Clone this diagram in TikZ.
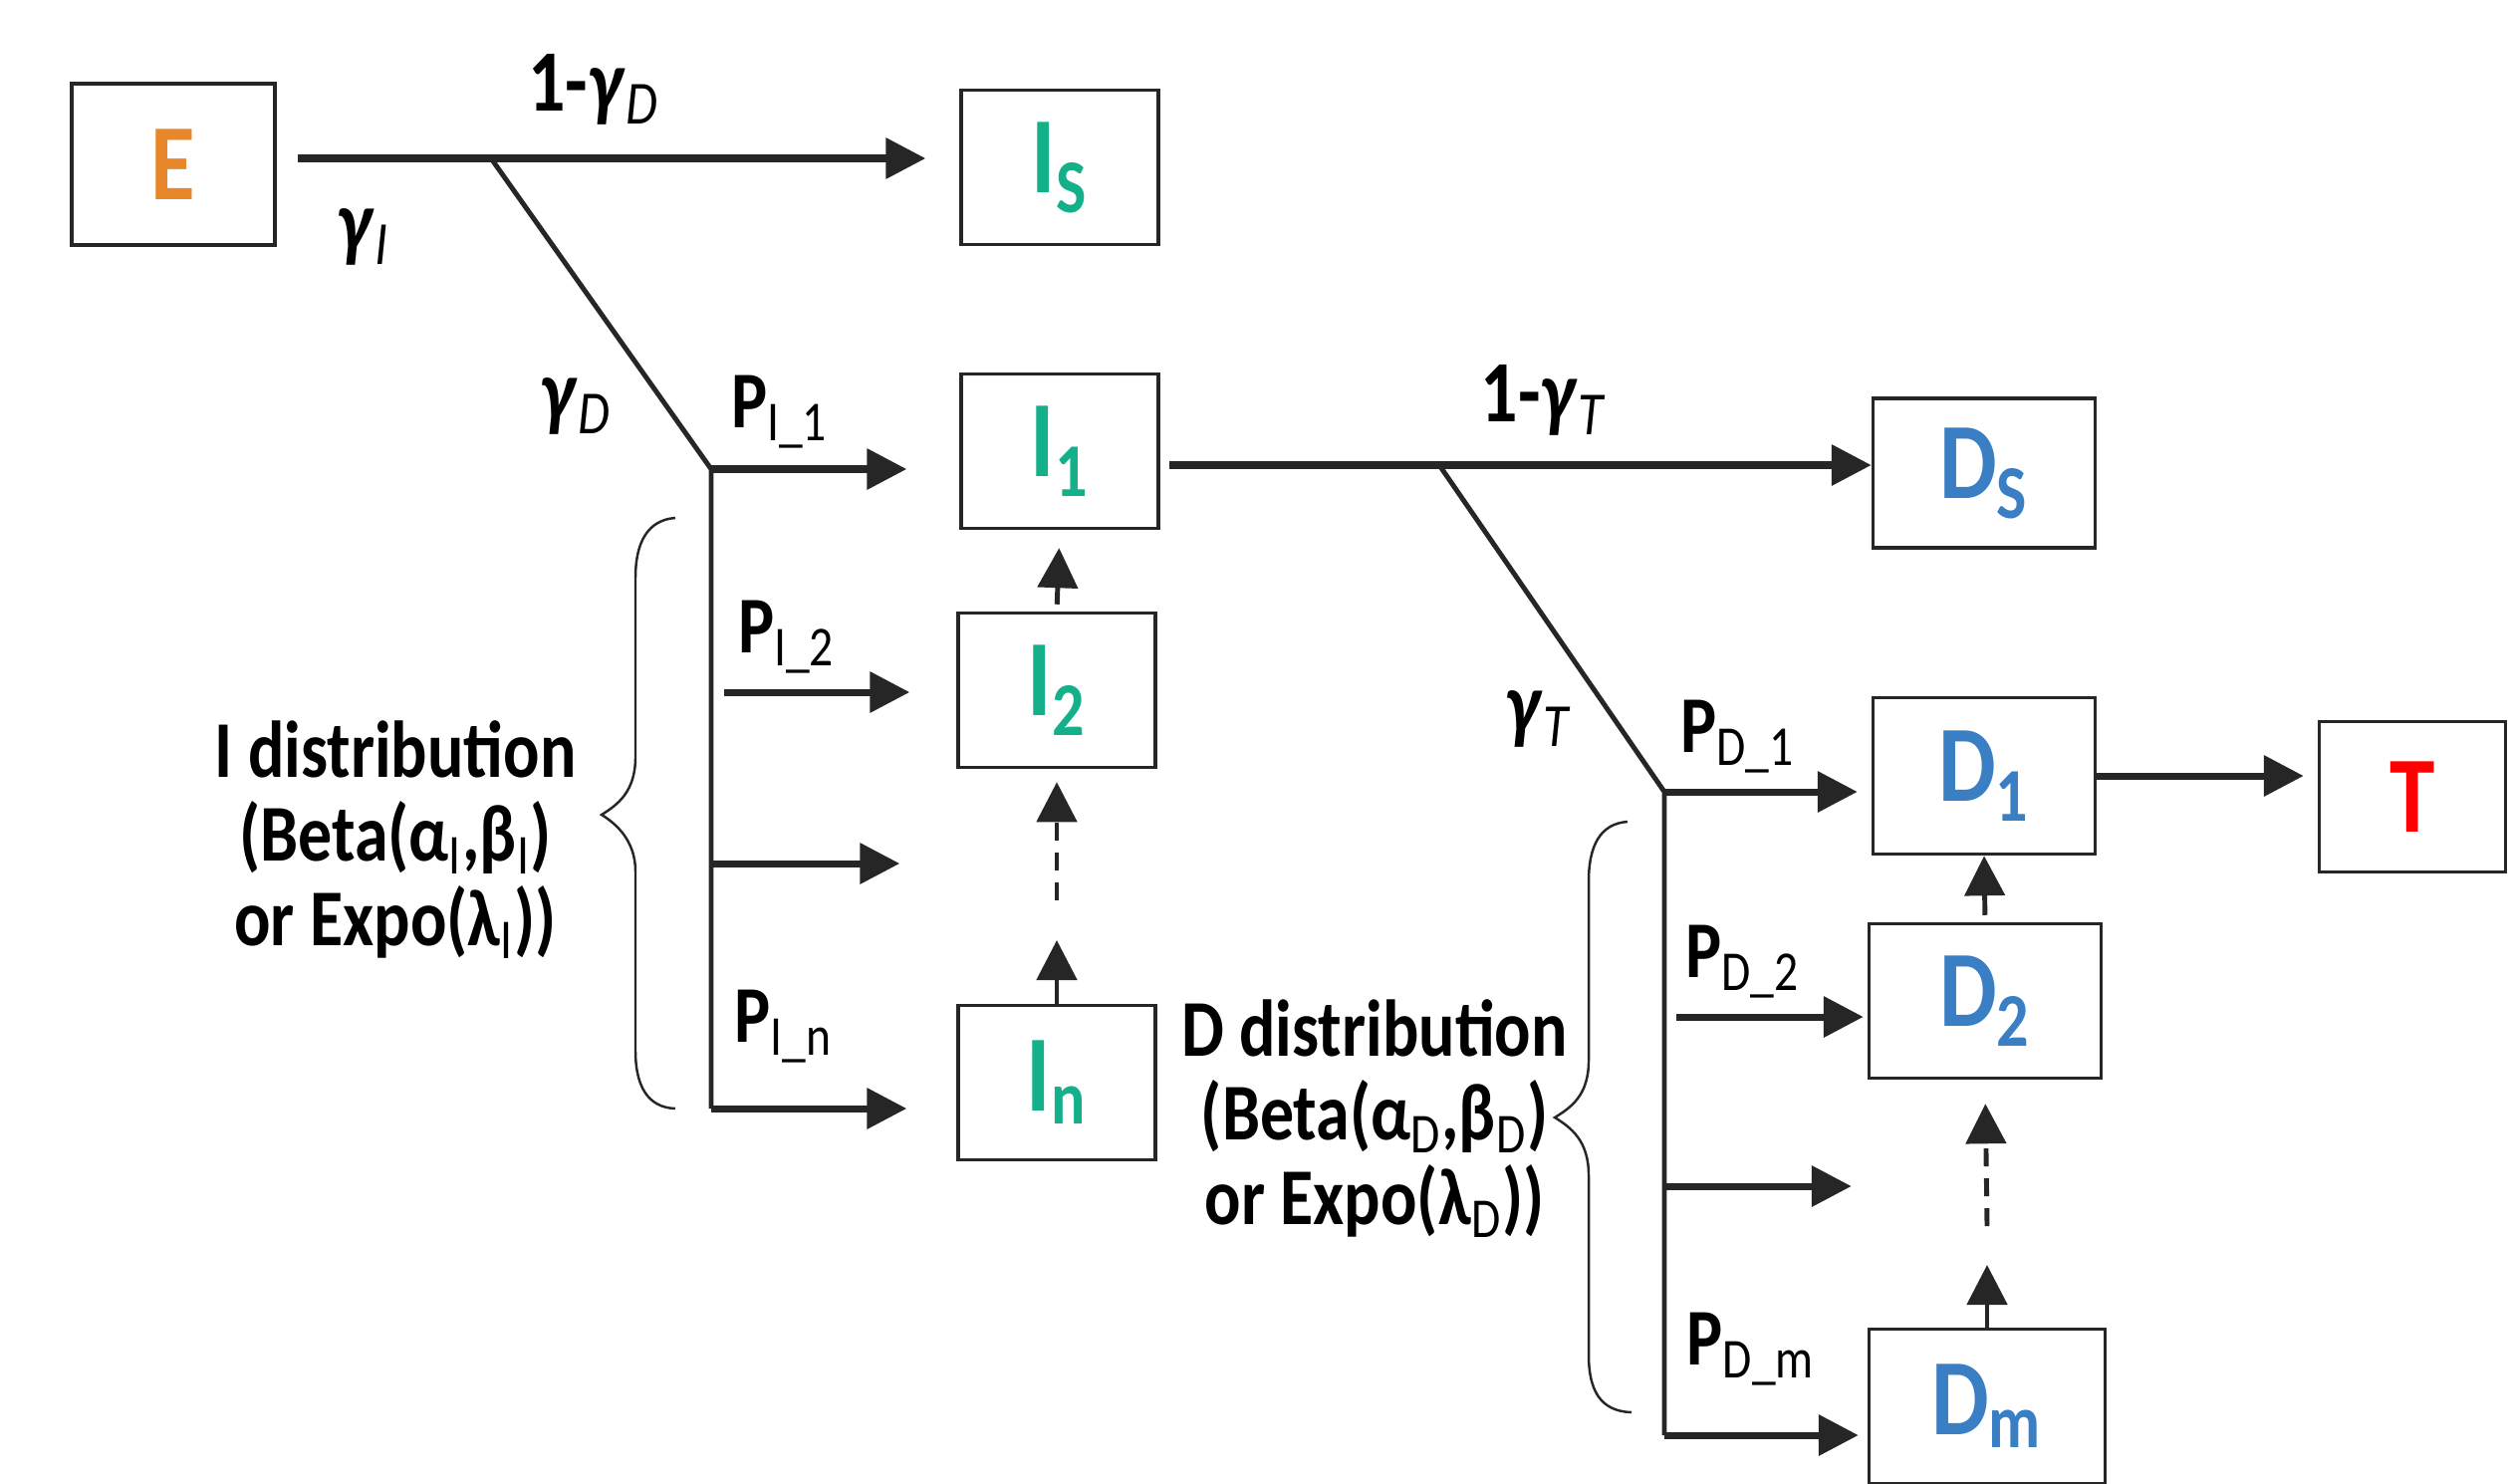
\documentclass[tikz,border=0pt]{standalone}
\usepackage{fontspec}
\setmainfont{Carlito}[FakeStretch=0.84]
\usetikzlibrary{arrows.meta}
\definecolor{linegray}{HTML}{262626}
\definecolor{eorange}{HTML}{E8872A}
\definecolor{igreen}{HTML}{14B08A}
\definecolor{dblue}{HTML}{3A7FC4}
\definecolor{tred}{HTML}{FF0000}
\tikzset{
	box/.style={draw=linegray,line width=1pt,inner sep=0pt,minimum height=1.55cm,font=\fontsize{31}{36}\selectfont\bfseries},
	arr/.style={draw=linegray,line width=2pt,-{Triangle[length=0.4cm,width=0.4cm]}},
	varr/.style={draw=linegray,line width=1.4pt,-{Triangle[length=0.4cm,width=0.4cm]}},
	link/.style={draw=linegray,line width=1.4pt},
	brace/.style={draw=linegray,line width=0.7pt},
	lbl/.style={font=\fontsize{23}{24}\selectfont\bfseries,inner sep=0pt},
	glbl/.style={font=\fontsize{25}{30}\selectfont\bfseries,inner sep=0pt},
	dashpat/.style={dash pattern=on 0.18cm off 0.12cm},
}
\newcommand{\gsub}[1]{\textit{γ}\textsubscript{\mdseries\itshape #1}}
\newcommand{\psub}[2]{P\textsubscript{\mdseries #1\_#2}}
\begin{document}
\begin{tikzpicture}
	\useasboundingbox (0,0) rectangle (25.18,-14.89);
	\node[box,minimum width=2.04cm,minimum height=1.62cm,text=eorange] (E) at (1.74,-1.65) {E};
	\node[box,minimum width=1.98cm,text=igreen] (Is) at (10.64,-1.68) {I\textsubscript{S}};
	\node[box,minimum width=1.98cm,text=igreen] (I1) at (10.64,-4.53) {I\textsubscript{1}};
	\node[box,minimum width=1.98cm,text=igreen] (I2) at (10.61,-6.93) {I\textsubscript{2}};
	\node[box,minimum width=1.98cm,text=igreen] (In) at (10.61,-10.87) {I\textsubscript{n}};
	\node[box,minimum width=2.23cm,minimum height=1.5cm,text=dblue] (Ds) at (19.92,-4.75) {D\textsubscript{S}};
	\node[box,minimum width=2.23cm,minimum height=1.57cm,text=dblue] (D1) at (19.92,-7.79) {D\textsubscript{1}};
	\node[box,minimum width=2.33cm,text=dblue] (D2) at (19.93,-10.05) {D\textsubscript{2}};
	\node[box,minimum width=2.37cm,text=dblue] (Dm) at (19.95,-14.12) {D\textsubscript{m}};
	\node[box,minimum width=1.87cm,minimum height=1.51cm,text=tred] (T) at (24.22,-8.0) {T};
	
	\coordinate (jE) at (4.93,-1.59);
	\coordinate (jI) at (7.14,-4.71);
	\coordinate (jI2) at (7.14,-6.95);
	\coordinate (jI3) at (7.14,-8.67);
	\coordinate (jIn) at (7.14,-11.13);
	\coordinate (dashI) at (10.61,-9.04);
	\coordinate (jT) at (14.45,-4.67);
	\coordinate (jD) at (16.71,-7.95);
	\coordinate (jD2) at (16.71,-10.21);
	\coordinate (jD3) at (16.71,-11.91);
	\coordinate (jDm) at (16.71,-14.41);
	\coordinate (dashD) at (19.95,-12.31);
	
	\draw[arr,shorten <=0.21cm,shorten >=0.34cm] (E.east |- jE) -- (jE -| Is.west);
	\draw[link] (jE) -- (jI) -- (jIn);
	\draw[arr,shorten >=0.53cm] (jI) -- (jI -| I1.west);
	\draw[arr,shorten <=0.13cm,shorten >=0.47cm] (jI2) -- (jI2 -| I2.west);
	\draw[arr,shorten >=0.57cm] (jI3) -- (jI3 -| I2.west);
	\draw[arr,shorten >=0.5cm] (jIn) -- (jIn -| In.west);
	\draw[varr,shorten <=0.07cm,shorten >=0.18cm] (I2.north) -- (I1.south);
	\draw[varr,shorten >=0.4cm] (In.north) -- (dashI);
	\draw[varr,dashpat,shorten >=0.13cm] (dashI) -- (I2.south);
	
	\draw[arr,shorten <=0.09cm] (I1.east |- jT) -- (jT -| Ds.west);
	\draw[link] (jT) -- (jD) -- (jDm);
	\draw[arr,shorten >=0.14cm] (jD) -- (jD -| D1.west);
	\draw[arr,shorten <=0.12cm,shorten >=0.04cm] (jD2) -- (jD2 -| D2.west);
	\draw[arr,shorten >=0.16cm] (jD3) -- (jD3 -| D2.west);
	\draw[arr,shorten >=0.09cm] (jDm) -- (jDm -| Dm.west);
	\draw[arr,shorten >=0.14cm] (D1.east) -- (D1.east -| T.west);
	\draw[varr,shorten <=0.07cm] (D2.north) -- (D1.south);
	\draw[varr,shorten >=0.39cm] (Dm.north) -- (dashD);
	\draw[varr,dashpat,shorten >=0.24cm] (dashD) -- (D2.south);
	
	\draw[brace] (6.78,-5.20) .. controls (6.50,-5.22) and (6.38,-5.45) .. (6.38,-5.80) -- (6.38,-7.60)
		.. controls (6.38,-7.95) and (6.20,-8.08) .. (6.04,-8.18)
		.. controls (6.20,-8.28) and (6.38,-8.45) .. (6.38,-8.75) -- (6.38,-10.55)
		.. controls (6.38,-10.90) and (6.50,-11.12) .. (6.78,-11.13);
	\draw[brace] (16.34,-8.25) .. controls (16.06,-8.27) and (15.95,-8.50) .. (15.95,-8.85) -- (15.95,-10.65)
		.. controls (15.95,-11.00) and (15.77,-11.12) .. (15.61,-11.22)
		.. controls (15.77,-11.32) and (15.95,-11.45) .. (15.95,-11.80) -- (15.95,-13.60)
		.. controls (15.95,-13.95) and (16.06,-14.17) .. (16.38,-14.18);
	
	\node[glbl] (gE) at (5.96,-0.90) {1-\gsub{D}};
	\node[glbl] (gI) at (3.65,-2.38) {\gsub{I}};
	\node[glbl] (gD) at (5.78,-4.08) {\gsub{D}};
	\node[glbl] (gT1) at (15.49,-4.02) {1-\gsub{T}};
	\node[glbl] (gT) at (15.44,-7.22) {\gsub{T}};
	\node[lbl] (pI1) at (7.83,-4.14) {\psub{I}{1}};
	\node[lbl] (pI2) at (7.90,-6.40) {\psub{I}{2}};
	\node[lbl] (pIn) at (7.87,-10.31) {\psub{I}{n}};
	\node[lbl] (pD1) at (17.45,-7.40) {\psub{D}{1}};
	\node[lbl] (pD2) at (17.50,-9.66) {\psub{D}{2}};
	\node[lbl] (pDm) at (17.58,-13.55) {\psub{D}{m}};
	\node[lbl,align=center] (Idist) at (3.97,-8.43) {I distribution\\(Beta(α\textsubscript{\mdseries I},β\textsubscript{\mdseries I})\\or Expo(λ\textsubscript{\mdseries I}))};
	\node[lbl,align=center] (Ddist) at (13.80,-11.23) {D distribution\\(Beta(α\textsubscript{\mdseries D},β\textsubscript{\mdseries D})\\or Expo(λ\textsubscript{\mdseries D}))};
\end{tikzpicture}
\end{document}
